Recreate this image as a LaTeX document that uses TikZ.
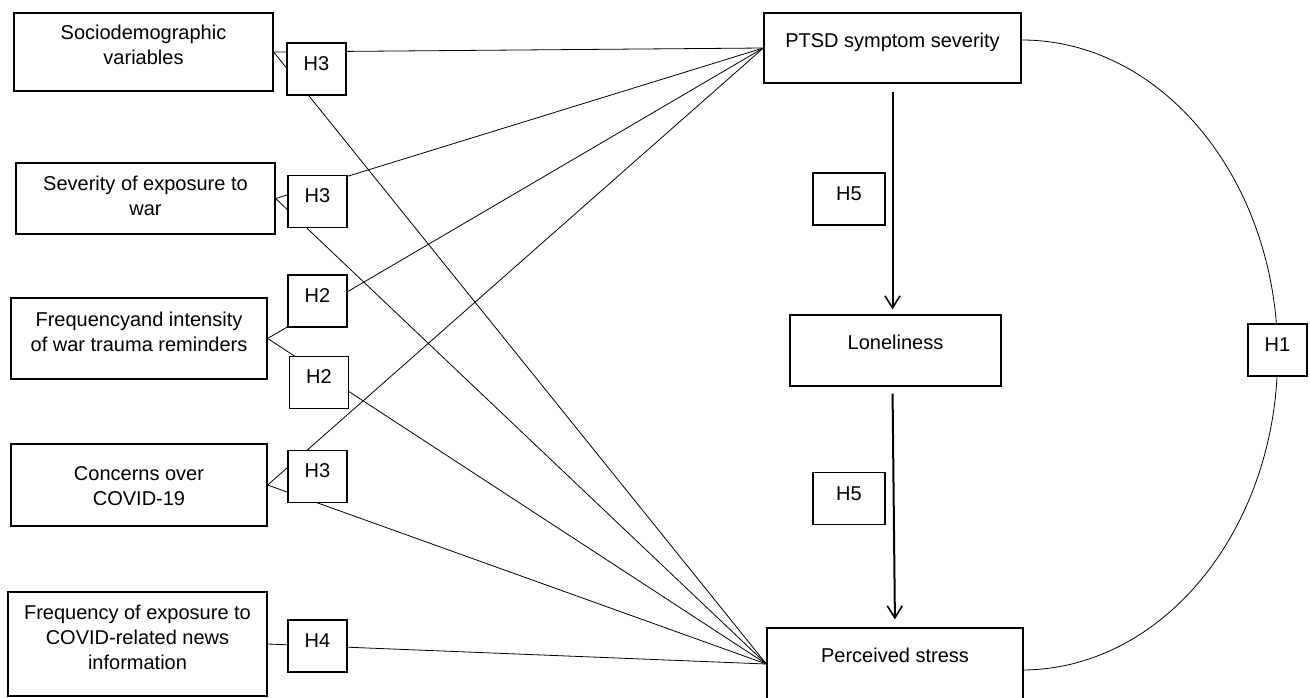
\documentclass[tikz,border=0pt]{standalone}
\usepackage{fontspec}
\setmainfont{Liberation Sans}
\usetikzlibrary{arrows.meta}
\begin{document}
\begin{tikzpicture}[x=1pt,y=1pt,
  every node/.style={font=\fontsize{20}{24.8}\selectfont},
  box/.style={draw=black, line width=1.3pt, fill=white, inner sep=0pt},
  hbox/.style={box, minimum width=59pt, minimum height=52pt, text height=15pt, text depth=13pt},
  txt/.style={align=center, inner sep=0pt, anchor=north},
  link/.style={line width=0.8pt},
  arr/.style={line width=2pt, -{Straight Barb[length=12pt,width=15pt,line width=1.6pt]}}
]
\useasboundingbox (0,0) rectangle (1310,-697);
\fill[white] (0,0) rectangle (1310,-697);

% left boxes
\node[box, minimum width=259pt, minimum height=78pt] (socio) at (143.5,-52) {};
\node[txt] (socio-t) at (143.5,-25) {Sociodemographic\\variables};
\node[box, minimum width=259pt, minimum height=71pt] (sev) at (145.5,-198.5) {};
\node[txt] (sev-t) at (145.5,-176) {Severity of exposure to\\war};
\node[box, minimum width=256pt, minimum height=81pt] (ftr) at (139,-338.5) {};
\node[txt] (ftr-t) at (139,-311.7) {Frequencyand intensity\\of war trauma reminders};
\node[box, minimum width=256pt, minimum height=82pt] (conc) at (139,-485) {};
\node[txt] (conc-t) at (139,-466.7) {Concerns over\\COVID-19};
\node[box, minimum width=259pt, minimum height=104pt] (fexp) at (137.5,-644) {};
\node[txt] (fexp-t) at (137.5,-605) {Frequency of exposure to\\COVID-related news\\information};

% right boxes
\node[box, minimum width=257pt, minimum height=70pt, text height=15pt, text depth=17pt] (ptsd) at (892.5,-48) {PTSD symptom severity};
\node[box, minimum width=211pt, minimum height=71pt, text height=15pt, text depth=18pt] (lonely) at (895.5,-350.5) {Loneliness};
\node[box, minimum width=256pt, minimum height=72pt, text height=15pt, text depth=19pt] (stress) at (895,-664) {Perceived stress};

% connectors
\draw[link] (socio.east) -- (ptsd.west);
\draw[link] (socio.east) -- (stress.west);
\draw[link] (sev.east) -- (ptsd.west);
\draw[link] (sev.east) -- (stress.west);
\draw[link] (ftr.east) -- (ptsd.west);
\draw[link] (ftr.east) -- (stress.west);
\draw[link] (conc.east) -- (ptsd.west);
\draw[link] (conc.east) -- (stress.west);
\draw[link] (fexp.east) -- (stress.west);

\draw[arr, shorten <=8pt, shorten >=5pt] (ptsd.south) -- (ptsd.south |- lonely.north);
\draw[arr, shorten <=7pt, shorten >=8pt] ([xshift=-3pt]lonely.south) -- (stress.north);

\draw[link] ([yshift=8pt]ptsd.east) arc[start angle=90, end angle=-90, x radius=256pt, y radius=315pt];

% hypothesis labels
\node[hbox] (h3a) at (316.5,-69) {H3};
\node[hbox] (h3b) at (317.5,-201.5) {H3};
\node[hbox] (h2a) at (317.5,-301) {H2};
\node[hbox] (h2b) at (319,-382.5) {H2};
\node[hbox] (h3c) at (317.5,-476.5) {H3};
\node[hbox] (h4) at (317.5,-646) {H4};
\node[hbox, minimum width=72pt, text depth=12pt] (h5a) at (849,-199) {H5};
\node[hbox, minimum width=72pt, text depth=12pt] (h5b) at (849,-498.5) {H5};
\node[hbox] (h1) at (1277.5,-350) {H1};
\end{tikzpicture}
\end{document}
